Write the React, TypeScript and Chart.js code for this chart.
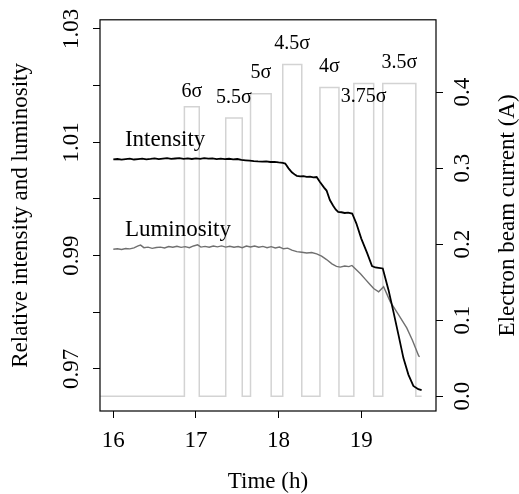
import React, { useEffect, useRef } from 'react';
import { Chart, registerables } from 'chart.js';

Chart.register(...registerables);

const FONT = '"Liberation Serif", "Times New Roman", serif';

// Relative intensity (black line)
const intensityTime = [
  16.0, 16.05, 16.1, 16.15, 16.2, 16.25, 16.3, 16.35, 16.4, 16.45, 16.5, 16.55, 16.6, 16.65, 16.7, 16.75,
  16.8, 16.85, 16.9, 16.95, 17.0, 17.05, 17.1, 17.15, 17.2, 17.25, 17.3, 17.35, 17.4, 17.45, 17.5, 17.55,
  17.6, 17.65, 17.7, 17.75, 17.8, 17.85, 17.9, 17.95, 18.0, 18.05, 18.08, 18.12, 18.16, 18.2, 18.22, 18.26,
  18.3, 18.34, 18.38, 18.42, 18.46, 18.5, 18.55, 18.58, 18.62, 18.66, 18.69, 18.72, 18.76, 18.8, 18.84, 18.89,
  18.94, 19.0, 19.07, 19.13, 19.17, 19.21, 19.26, 19.33, 19.39, 19.45, 19.51, 19.57, 19.63, 19.69, 19.73,
];
const intensityValue = [
  1.00699, 1.00705, 1.00694, 1.00702, 1.0071, 1.00696, 1.00704, 1.00712, 1.007, 1.00707, 1.00716, 1.00703,
  1.00711, 1.00719, 1.00706, 1.00714, 1.00722, 1.00709, 1.00717, 1.00705, 1.00715, 1.00708, 1.0072, 1.00711,
  1.00716, 1.00704, 1.00713, 1.00702, 1.00709, 1.00698, 1.00705, 1.00688, 1.00682, 1.00676, 1.00668, 1.00662,
  1.0066, 1.00664, 1.00652, 1.00655, 1.00644, 1.00636, 1.00624, 1.0054, 1.0047, 1.00425, 1.00409, 1.00398,
  1.00404, 1.00388, 1.00395, 1.0038, 1.00386, 1.003, 1.002, 1.00148, 0.9998, 0.9988, 0.99815, 0.99772,
  0.99765, 0.99752, 0.99758, 0.99743, 0.9957, 0.993, 0.99047, 0.98816, 0.9879, 0.98782, 0.98773, 0.9839,
  0.98003, 0.976, 0.97191, 0.969, 0.96699, 0.96642, 0.96624,
];

// Relative luminosity (grey line)
const luminosityTime = [
  16.0, 16.05, 16.1, 16.15, 16.2, 16.25, 16.3, 16.33, 16.37, 16.42, 16.47, 16.52, 16.57, 16.62, 16.67, 16.72,
  16.77, 16.82, 16.87, 16.92, 16.97, 17.02, 17.06, 17.11, 17.16, 17.21, 17.26, 17.31, 17.36, 17.41, 17.46,
  17.51, 17.56, 17.61, 17.66, 17.71, 17.76, 17.81, 17.86, 17.91, 17.96, 18.01, 18.06, 18.11, 18.16, 18.22,
  18.28, 18.34, 18.4, 18.46, 18.52, 18.58, 18.645, 18.7, 18.745, 18.8, 18.85, 18.887, 18.94, 18.99, 19.05,
  19.1, 19.15, 19.21, 19.27, 19.31, 19.35, 19.45, 19.55, 19.62, 19.694, 19.706,
];
const luminosityValue = [
  0.99112, 0.9912, 0.99108, 0.99125, 0.99118, 0.99135, 0.99172, 0.99185, 0.9914, 0.9915, 0.99128, 0.99142,
  0.9915, 0.99135, 0.9916, 0.99148, 0.99165, 0.99145, 0.99158, 0.9914, 0.9917, 0.9919, 0.9915, 0.99162,
  0.99148, 0.99168, 0.99155, 0.99172, 0.9915, 0.99165, 0.99148, 0.9916, 0.9914, 0.99168, 0.99152, 0.9917,
  0.99148, 0.99162, 0.9914, 0.99158, 0.99135, 0.9915, 0.9912, 0.99132, 0.99098, 0.9907, 0.9906, 0.99045,
  0.99055, 0.9903, 0.9899, 0.9893, 0.98854, 0.9881, 0.98797, 0.98815, 0.98805, 0.98826, 0.9875, 0.9868,
  0.9858, 0.985, 0.98419, 0.98362, 0.98449, 0.9832, 0.98188, 0.9796, 0.97723, 0.975, 0.97231, 0.97214,
];

// Electron beam current pulses (light grey step line)
const beamRange = [15.84, 19.73];
const beamStart = [16.86, 17.36, 17.66, 18.05, 18.5, 18.91, 19.26];
const beamEnd = [17.04, 17.56, 17.91, 18.28, 18.73, 19.15, 19.66];
const beamCurrent = [0.3806, 0.3658, 0.3978, 0.4363, 0.406, 0.4111, 0.4111];
const beamLabels = ['6σ', '5.5σ', '5σ', '4.5σ', '4σ', '3.75σ', '3.5σ'];
const beamLabelLevel = [0.393, 0.385, 0.418, 0.457, 0.426, 0.387, 0.431];

// Series labels
const seriesLabels = ['Intensity', 'Luminosity'];
const seriesLabelTime = [16.14, 16.14];
const seriesLabelValue = [1.00943, 0.99341];

// Axes
const xRange = [15.839, 19.904];
const xTicks = [16, 17, 18, 19];
const leftRange = [0.96257, 1.03162];
const leftTicks = [0.97, 0.98, 0.99, 1.0, 1.01, 1.02, 1.03];
const leftTickLabels = ['0.97', '', '0.99', '', '1.01', '', '1.03'];
const rightRange = [-0.01944, 0.495];
const rightTicks = [0, 0.1, 0.2, 0.3, 0.4];
const rightTickLabels = ['0.0', '0.1', '0.2', '0.3', '0.4'];

function beamPoints() {
  const pts: { x: number; y: number }[] = [{ x: beamRange[0], y: 0 }];
  beamStart.forEach((s, i) => {
    pts.push({ x: s, y: 0 });
    pts.push({ x: s, y: beamCurrent[i] });
    pts.push({ x: beamEnd[i], y: beamCurrent[i] });
    pts.push({ x: beamEnd[i], y: 0 });
  });
  pts.push({ x: beamRange[1], y: 0 });
  return pts;
}

const overlayPlugin = {
  id: 'overlay',
  afterDatasetsDraw(chart: any) {
    const { ctx, chartArea, scales } = chart;
    ctx.save();
    ctx.strokeStyle = '#000';
    ctx.lineWidth = 1.2;
    ctx.strokeRect(chartArea.left, chartArea.top, chartArea.right - chartArea.left, chartArea.bottom - chartArea.top);

    ctx.fillStyle = '#000';
    ctx.textBaseline = 'alphabetic';
    ctx.textAlign = 'center';
    ctx.font = `20px ${FONT}`;
    beamLabels.forEach((t, i) => {
      const x = scales.x.getPixelForValue((beamStart[i] + beamEnd[i]) / 2);
      const y = scales.y2.getPixelForValue(beamLabelLevel[i]);
      ctx.fillText(t, x, y);
    });

    ctx.textAlign = 'left';
    ctx.font = `23px ${FONT}`;
    seriesLabels.forEach((t, i) => {
      ctx.fillText(t, scales.x.getPixelForValue(seriesLabelTime[i]), scales.y.getPixelForValue(seriesLabelValue[i]));
    });

    ctx.translate(514, (chartArea.top + chartArea.bottom) / 2);
    ctx.rotate(-Math.PI / 2);
    ctx.textAlign = 'center';
    ctx.font = `23px ${FONT}`;
    ctx.fillText('Electron beam current (A)', 0, 0);
    ctx.restore();
  },
};

export default function App() {
  const ref = useRef<HTMLCanvasElement>(null);
  useEffect(() => {
    if (!ref.current) return;
    const tickFont = { family: FONT, size: 23 };
    const grid = {
      display: true,
      drawOnChartArea: false,
      drawTicks: true,
      tickLength: 7,
      color: '#000',
      lineWidth: 1,
    };
    const chart = new Chart(ref.current, {
      type: 'line',
      data: {
        datasets: [
          {
            label: 'Intensity',
            data: intensityTime.map((t, i) => ({ x: t, y: intensityValue[i] })),
            borderColor: '#000',
            borderWidth: 1.8,
            pointRadius: 0,
            tension: 0,
            yAxisID: 'y',
          },
          {
            label: 'Luminosity',
            data: luminosityTime.map((t, i) => ({ x: t, y: luminosityValue[i] })),
            borderColor: '#707070',
            borderWidth: 1.4,
            pointRadius: 0,
            tension: 0,
            yAxisID: 'y',
          },
          {
            label: 'Electron beam current',
            data: beamPoints(),
            borderColor: '#d3d3d3',
            borderWidth: 1.5,
            pointRadius: 0,
            tension: 0,
            yAxisID: 'y2',
          },
        ],
      },
      options: {
        responsive: false,
        animation: false,
        devicePixelRatio: 1,
        layout: { padding: { top: 14, left: 0, right: 0, bottom: 0 } },
        plugins: { legend: { display: false }, tooltip: { enabled: false } },
        scales: {
          x: {
            type: 'linear',
            min: xRange[0],
            max: xRange[1],
            afterBuildTicks: (axis: any) => {
              axis.ticks = xTicks.map((v) => ({ value: v }));
            },
            afterFit: (axis: any) => {
              axis.height = 83;
            },
            grid,
            border: { display: false },
            ticks: {
              font: tickFont,
              color: '#000',
              padding: 9,
              maxRotation: 0,
              autoSkip: false,
              callback: (v: any) => String(v),
            },
            title: {
              display: true,
              text: 'Time (h)',
              color: '#000',
              font: { family: FONT, size: 23, lineHeight: 1 },
              padding: { top: 0, bottom: 1 },
            },
          },
          y: {
            type: 'linear',
            position: 'left',
            min: leftRange[0],
            max: leftRange[1],
            afterBuildTicks: (axis: any) => {
              axis.ticks = leftTicks.map((v) => ({ value: v }));
            },
            afterFit: (axis: any) => {
              axis.width = 100;
            },
            grid,
            border: { display: false },
            ticks: {
              font: tickFont,
              color: '#000',
              padding: 1,
              minRotation: 90,
              maxRotation: 90,
              crossAlign: 'center',
              autoSkip: false,
              callback: (_v: any, i: number) => leftTickLabels[i],
            },
            title: {
              display: true,
              text: 'Relative intensity and luminosity',
              color: '#000',
              font: { family: FONT, size: 23, lineHeight: 1 },
              padding: { top: 9, bottom: 0 },
            },
          },
          y2: {
            type: 'linear',
            position: 'right',
            min: rightRange[0],
            max: rightRange[1],
            afterBuildTicks: (axis: any) => {
              axis.ticks = rightTicks.map((v) => ({ value: v }));
            },
            afterFit: (axis: any) => {
              axis.width = 83;
            },
            grid,
            border: { display: false },
            ticks: {
              font: tickFont,
              color: '#000',
              padding: 6,
              minRotation: 90,
              maxRotation: 90,
              crossAlign: 'center',
              autoSkip: false,
              callback: (_v: any, i: number) => rightTickLabels[i],
            },
          },
        },
      },
      plugins: [overlayPlugin],
    } as any);
    return () => chart.destroy();
  }, []);
  return (
    <div style={{ position: 'absolute', left: 0, top: 0, width: 519, height: 494, background: '#fff' }}>
      <canvas ref={ref} width={519} height={494} />
    </div>
  );
}
